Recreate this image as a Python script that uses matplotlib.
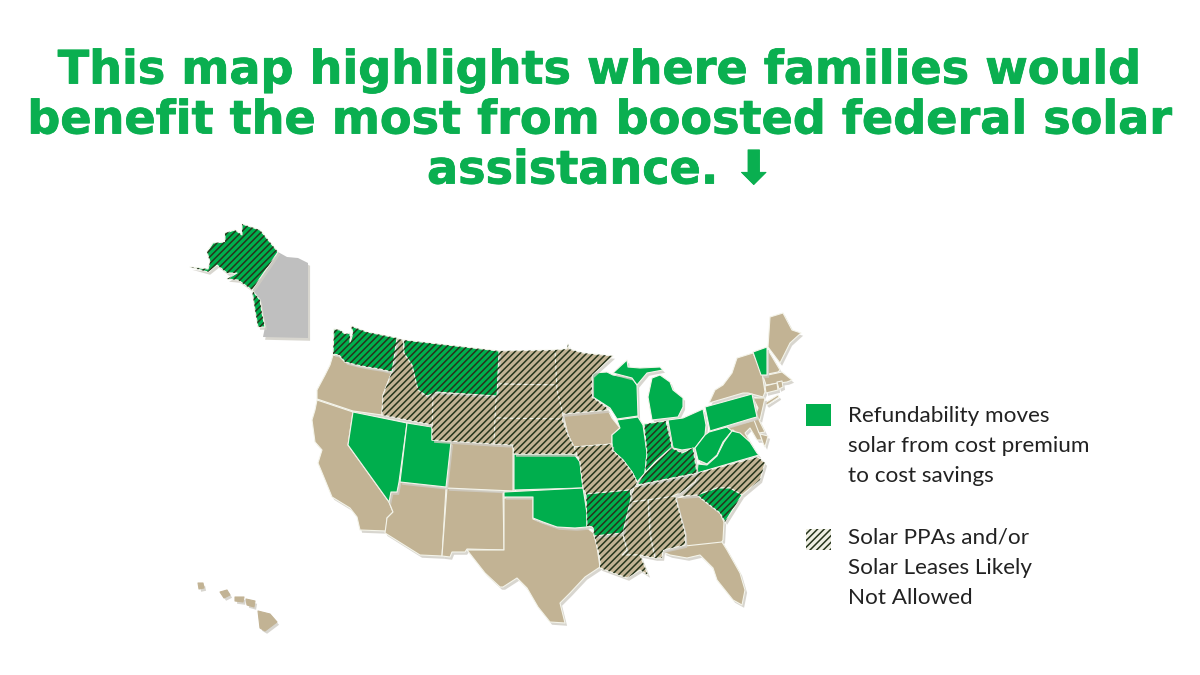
import matplotlib
matplotlib.use('Agg')
import matplotlib.pyplot as plt
import matplotlib.patheffects as pe
from matplotlib.patches import Polygon, Rectangle

# outlines, in image pixels
WA = [(334,329),(340,330),(345,334),(350,333),(350,343),(353,333),(351,326),(367,332),(397,338),(392,372),(380,369),(367,367),(357,365),(345,362),(339,355),(333,354)]
OR = [(333,355),(339,356),(345,362),(357,366),(367,368),(380,370),(392,372),(388,382),(383,395),(382,415),(353,411),(317,399),(317,390),(325,375),(330,365)]
ID = [(395,338),(403,340),(404,353),(412,365),(417,385),(423,395),(433,392),(433,425),(382,415),(383,395),(388,382),(392,372)]
MT = [(404,340),(499,351),(497,396),(437,392),(427,396),(418,390),(412,365),(404,353)]
WY = [(433,393),(497,396),(494,444),(432,440)]
UT = [(407,423),(432,427),(432,440),(451,442),(446,487),(400,482)]
NV = [(353,412),(407,423),(399,482),(397,492),(391,492),(389,502),(348,445)]
CA = [(317,400),(353,412),(348,445),(389,502),(393,512),(387,518),(386,531),(360,530),(357,517),(350,508),(332,497),(323,475),(318,463),(322,450),(315,442),(312,420),(315,410)]
AZ = [(400,482),(446,488),(442,556),(420,555),(385,533),(387,518),(393,512),(389,502),(391,492),(397,492)]
NM = [(447,488),(503,492),(504,550),(467,549),(465,552),(452,552),(450,557),(442,556)]
CO = [(451,441),(513,445),(513,491),(447,488)]
KS = [(514,454),(574,454),(580,462),(583,488),(514,490)]
OK = [(504,492),(583,488),(587,513),(587,527),(575,528),(557,527),(543,522),(533,518),(533,497),(504,497)]
TX = [(504,498),(533,498),(533,519),(543,523),(557,527),(575,529),(587,528),(595,534),(600,567),(585,577),(570,593),(560,603),(565,623),(550,622),(538,607),(527,588),(517,578),(503,587),(500,587),(485,573),(467,550),(504,550)]
ND = [(499,351),(556,350),(559,385),(497,384)]
SD = [(497,384),(559,385),(563,414),(562,421),(495,418)]
NE = [(495,418),(562,419),(568,435),(574,447),(578,454),(514,454),(513,445),(494,444)]
IA = [(563,414),(608,410),(612,418),(620,428),(612,435),(612,444),(574,447),(568,435)]
MN = [(555,350),(567,349),(568,344),(569,349),(583,353),(613,356),(603,365),(592,375),(592,397),(606,407),(608,410),(563,414),(557,390)]
WI = [(593,373),(607,372),(613,375),(632,378),(637,385),(638,416),(617,419),(610,408),(593,397),(592,382)]
MI_UP = [(613,373),(627,360),(628,367),(640,368),(660,367),(663,370),(647,373),(637,385),(632,378)]
MI_LP = [(652,378),(660,375),(670,382),(673,390),(683,398),(683,407),(678,417),(652,420),(648,397)]
IL = [(617,420),(638,417),(643,425),(647,453),(645,473),(637,482),(632,472),(623,460),(612,450),(612,435),(620,428)]
IN = [(644,424),(666,421),(672,447),(655,462),(645,473),(647,453)]
KY = [(637,485),(645,473),(655,463),(672,448),(682,453),(693,448),(697,473)]
OH = [(668,420),(683,418),(703,409),(706,425),(705,435),(695,448),(682,450),(673,448)]
PA = [(705,407),(752,394),(757,417),(753,418),(710,431)]
NY = [(709,403),(743,393),(748,393),(763,397),(765,392),(762,373),(753,353),(737,358),(732,373),(723,385),(715,390)]
LI = [(765,403),(778,395),(779,397),(767,405)]
VT = [(753,352),(767,347),(767,375),(761,375)]
NH = [(768,350),(780,370),(778,372),(768,374)]
ME = [(770,317),(783,313),(792,330),(801,333),(790,343),(780,363),(768,347)]
MA = [(763,376),(782,372),(792,380),(787,382),(766,385)]
CT = [(765,386),(777,383),(778,390),(766,393)]
RI = [(777,382),(782,381),(783,387),(779,389)]
NJ = [(753,398),(765,398),(763,407),(760,420),(755,416),(758,408)]
MD = [(712,432),(755,420),(762,440),(757,440),(750,428),(745,433),(752,445),(742,438),(733,430),(725,432),(720,430)]
DE = [(754,420),(758,418),(765,432),(759,433)]
VA_SHORE = [(763,443),(760,434),(768,436),(765,447)]
WV = [(709,432),(727,427),(732,431),(723,442),(717,455),(707,464),(698,460),(695,448),(705,435)]
VA = [(698,464),(707,465),(717,456),(724,442),(732,431),(740,433),(750,442),(757,453),(759,455),(697,473)]
NC = [(698,473),(758,457),(765,463),(760,480),(742,495),(730,488),(717,488),(697,495),(680,496),(691,485)]
TN = [(634,487),(698,474),(695,482),(680,493),(670,497),(630,502)]
AL = [(648,500),(675,496),(685,533),(685,545),(663,550),(662,558),(655,558),(650,535)]
MS = [(630,502),(648,500),(650,535),(655,558),(640,555),(622,555),(627,550),(623,532)]
LA = [(594,535),(622,533),(627,550),(622,555),(640,555),(645,567),(648,575),(640,570),(627,578),(600,568),(600,558)]
AR = [(586,494),(630,490),(631,498),(623,532),(622,533),(594,536),(593,527),(587,526)]
MO = [(574,447),(612,444),(612,450),(623,460),(632,472),(637,482),(635,487),(630,490),(586,494),(583,488),(580,462)]
SC = [(697,495),(717,488),(730,488),(742,495),(725,522),(720,513),(707,503)]
GA = [(676,498),(697,495),(707,503),(720,513),(724,522),(723,540),(720,545),(687,547),(685,533)]
FL = [(663,552),(685,546),(722,542),(727,550),(740,573),(745,590),(742,605),(733,600),(717,580),(713,568),(700,555),(687,558),(670,555)]
AK = [(242,224),(260,230),(278,252),(252,290),(238,280),(227,279),(237,273),(227,273),(217,265),(208,272),(190,267),(208,269),(210,262),(207,252),(213,243),(225,242),(225,233),(235,230),(242,235)]
AK_PAN = [(252,290),(260,300),(262,313),(265,327),(258,327),(255,310)]
CANADA = [(278,252),(287,257),(298,258),(308,263),(308,338),(263,337),(265,327),(262,313),(260,300),(252,290)]
HI_BIG = [(258,611),(270,614),(277,622),(265,631),(260,628)]
HI_MAUI = [(246,599),(255,601),(254,607),(247,605)]
HI_MOLOKAI = [(235,597),(244,597),(243,602),(235,601)]
HI_OAHU = [(220,592),(227,590),(230,595),(224,598)]
HI_KAUAI = [(198,583),(203,583),(204,588),(199,589)]

plain_tan = [OR, CA, AZ, NM, CO, TX, IA, NY, LI, NH, ME, MA, CT, RI, NJ, MD, DE, VA_SHORE, GA, FL]
hawaii = [HI_BIG, HI_MAUI, HI_MOLOKAI, HI_OAHU, HI_KAUAI]
plain_green = [NV, UT, KS, OK, WI, MI_UP, MI_LP, IL, OH, PA, VT, WV, VA]
hatched_tan = [ID, WY, ND, SD, NE, MN, MO, NC, TN, AL, MS, LA]
hatched_green = [WA, MT, IN, KY, AR, SC, AK, AK_PAN]

title_lines = ['This map highlights where families would',
               'benefit the most from boosted federal solar',
               'assistance. ⬇']
legend_green = ['Refundability moves', 'solar from cost premium', 'to cost savings']
legend_hatch = ['Solar PPAs and/or', 'Solar Leases Likely', 'Not Allowed']

TAN = '#c2b394'
GREEN = '#00ae4d'
DARK = '#26351c'
plt.rcParams['hatch.linewidth'] = 1.1

fig = plt.figure(figsize=(12, 6.75), dpi=100, facecolor='white')
ax = fig.add_axes([0, 0, 1, 1])
ax.set_xlim(0, 1200)
ax.set_ylim(675, 0)
ax.axis('off')

shadow = [pe.SimplePatchShadow(offset=(1.5, -2), shadow_rgbFace='#cfccc4', alpha=0.8), pe.Normal()]


def draw_state(pts, color, hatched=False, edge='#f4f4ea'):
    ax.add_patch(Polygon(pts, closed=True, facecolor=color, edgecolor=edge, lw=0.8,
                         joinstyle='round', path_effects=shadow, zorder=2))
    if hatched:
        ax.add_patch(Polygon(pts, closed=True, facecolor='none', edgecolor=DARK, lw=0,
                             hatch='/////', zorder=3))


ax.add_patch(Polygon(CANADA, closed=True, facecolor='#bfbfbf', edgecolor='none', path_effects=shadow, zorder=1))
for s in plain_tan:
    draw_state(s, TAN)
for s in hawaii:
    draw_state(s, TAN, edge=TAN)
for s in plain_green:
    draw_state(s, GREEN)
for s in hatched_tan:
    draw_state(s, TAN, True)
for s in hatched_green:
    draw_state(s, GREEN, True)

for y, line in zip([71, 121, 171], title_lines):
    ax.text(600, y, line, ha='center', va='center', color='#0aaf50', fontsize=33.2,
            fontweight='bold', family='DejaVu Sans',
            path_effects=[pe.withStroke(linewidth=0.6, foreground='#0aaf50')])

# legend
ax.add_patch(Rectangle((806, 404), 25, 22, facecolor=GREEN, edgecolor='none'))
ax.add_patch(Rectangle((806, 529), 25, 21, facecolor='#f0f0e4', edgecolor='none'))
ax.add_patch(Rectangle((806, 529), 25, 21, facecolor='none', edgecolor=DARK, lw=0, hatch='/////'))
for y, line in zip([416, 446, 476], legend_green):
    ax.text(848, y, line, ha='left', va='center', color='#222222', fontsize=16.2, family='Lato')
for y, line in zip([538, 568, 598], legend_hatch):
    ax.text(848, y, line, ha='left', va='center', color='#222222', fontsize=16.2, family='Lato')

fig.savefig('out.png', dpi=100, facecolor='white')
